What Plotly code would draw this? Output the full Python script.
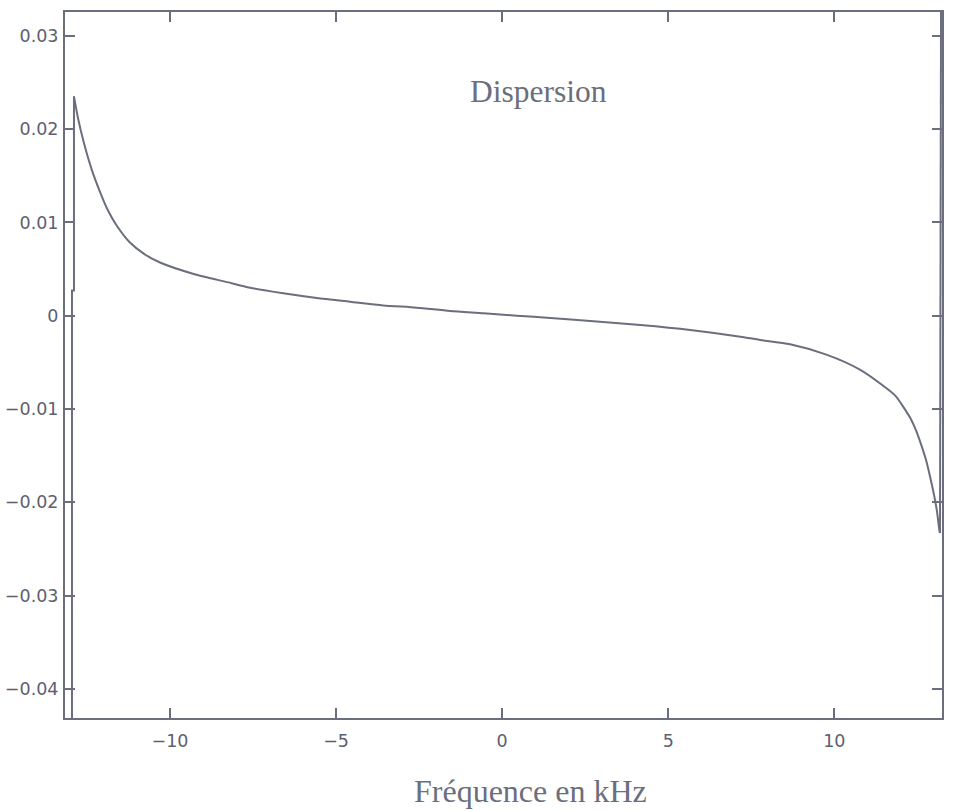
import plotly.graph_objects as go

# Data
freq_khz = [-12.95, -12.95, -12.89, -12.89, -12.77, -12.59, -12.35, -12.11, -11.87, -11.61,
            -11.22, -10.77, -10.30, -9.31, -8.28, -7.59, -6.59, -5.58, -4.58, -3.58,
            -2.57, -1.57, -0.56, 0.44, 1.45, 2.65, 4.16, 5.66, 7.17, 7.77,
            8.67, 9.78, 10.78, 11.54, 11.84, 12.08, 12.29, 12.47, 12.62, 12.77,
            12.89, 13.00, 13.09, 13.16, 13.18, 13.19, 13.22]
dispersion = [-0.05, 0.0027, 0.0027, 0.0235, 0.0212, 0.0185, 0.0156, 0.0133, 0.0113, 0.0097,
              0.0079, 0.0066, 0.0057, 0.0045, 0.0036, 0.0030, 0.0024, 0.0019, 0.0015, 0.0011,
              0.00086, 0.0005, 0.00026, 0.0, -0.00025, -0.00057, -0.0010, -0.00153, -0.00225, -0.0026,
              -0.00307, -0.0042, -0.0058, -0.0077, -0.0086, -0.0098, -0.0110, -0.0124, -0.0139, -0.0156,
              -0.0174, -0.0192, -0.0210, -0.0230, -0.0233, 0.0082, 0.05]

x_tick_vals = [-10, -5, 0, 5, 10]
x_tick_text = ["\u221210", "\u22125", "0", "5", "10"]
y_tick_vals = [0.03, 0.02, 0.01, 0, -0.01, -0.02, -0.03, -0.04]
y_tick_text = ["0.03", "0.02", "0.01", "0", "\u22120.01", "\u22120.02", "\u22120.03", "\u22120.04"]

title_text = "Dispersion"
x_title = "Fréquence en kHz"

ink = "#6a6e7d"
txt = "#5c6070"

n = len(freq_khz)
fig = go.Figure()
# left vertical jump, smooth branch, right vertical jump
segments = [(slice(0, 4), "linear"), (slice(3, n - 2), "spline"), (slice(n - 3, n), "linear")]
for sl, shape in segments:
    fig.add_trace(go.Scatter(x=freq_khz[sl], y=dispersion[sl], mode="lines",
                             line=dict(color=ink, width=2, shape=shape, smoothing=0.7),
                             showlegend=False, hoverinfo="skip"))

axis_common = dict(showline=True, linecolor=ink, linewidth=2, mirror="ticks",
                   ticks="inside", ticklen=10, tickwidth=2, tickcolor=ink,
                   showgrid=False, zeroline=False, automargin=False,
                   tickfont=dict(family="DejaVu Sans", size=17.5, color=txt))

fig.update_xaxes(range=[-13.16, 13.24], tickvals=x_tick_vals, ticktext=x_tick_text,
                 ticklabelstandoff=6, **axis_common)
fig.update_yaxes(range=[-0.04312, 0.03255], tickvals=y_tick_vals, ticktext=y_tick_text,
                 ticklabelstandoff=1, **axis_common)

fig.add_annotation(x=1.095, y=0.0240, xref="x", yref="y", text=title_text, showarrow=False,
                   xanchor="center", yanchor="middle",
                   font=dict(family="Liberation Serif", size=31.5, color=ink))
fig.add_annotation(x=0.84, y=-0.1034, xref="x", yref="paper", text=x_title, showarrow=False,
                   xanchor="center", yanchor="middle",
                   font=dict(family="Liberation Serif", size=32, color=ink))

fig.update_layout(width=960, height=811, paper_bgcolor="white", plot_bgcolor="white",
                  margin=dict(l=65, r=18, t=12, b=93), hovermode=False)

fig.write_html("out.html", config={"displayModeBar": False, "staticPlot": True},
               post_script="document.body.style.margin='0';")
